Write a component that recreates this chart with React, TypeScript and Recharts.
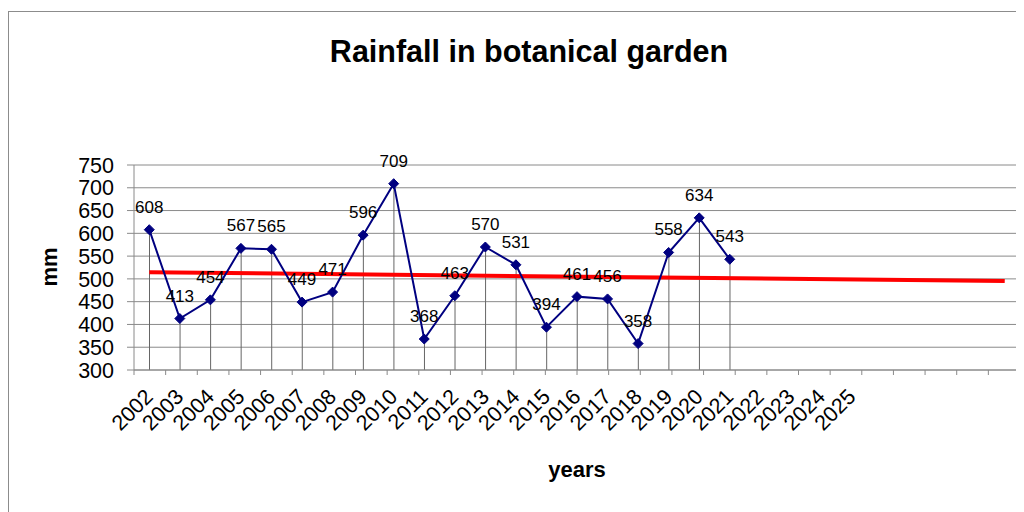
import {
  Bar,
  CartesianGrid,
  ComposedChart,
  LabelList,
  Line,
  ReferenceLine,
  XAxis,
  YAxis,
} from 'recharts';

const years = [
  '2002', '2003', '2004', '2005', '2006', '2007', '2008', '2009', '2010', '2011',
  '2012', '2013', '2014', '2015', '2016', '2017', '2018', '2019', '2020', '2021',
  '2022', '2023', '2024', '2025', '2026', '2027', '2028', '2029', '2030',
];
const tickLabels = [
  '2002', '2003', '2004', '2005', '2006', '2007', '2008', '2009', '2010', '2011',
  '2012', '2013', '2014', '2015', '2016', '2017', '2018', '2019', '2020', '2021',
  '2022', '2023', '2024', '2025', '', '', '', '', '',
];
const rainfall = [
  608, 413, 454, 567, 565, 449, 471, 596, 709, 368,
  463, 570, 531, 394, 461, 456, 358, 558, 634, 543,
];
// linear trend, read at its two ends
const trendEnds = [
  { x: '2002', y: 514.5 },
  { x: '2030', y: 495.5 },
];
const yTicks = [300, 350, 400, 450, 500, 550, 600, 650, 700, 750];

const data = years.map((year, i) => ({
  year,
  mm: i < rainfall.length ? rainfall[i] : null,
}));

const edgeTicks = years.map((_, i) => i).concat(years.length);

const FONT = 'Arial, "Liberation Sans", sans-serif';
const GRID = '#8a8a8a';
const NAVY = '#000080';

function Diamond(props: any) {
  const { cx, cy, value } = props;
  if (value == null || cx == null || cy == null) return <g key={props.index} />;
  const r = 5;
  return (
    <polygon
      key={props.index}
      points={`${cx},${cy - r} ${cx + r},${cy} ${cx},${cy + r} ${cx - r},${cy}`}
      fill={NAVY}
      stroke={NAVY}
    />
  );
}

function YearTick(props: any) {
  const { x, y, index } = props;
  const tx = x + 5;
  const ty = y + 19;
  return (
    <text
      x={tx}
      y={ty}
      transform={`rotate(-45, ${tx}, ${ty})`}
      textAnchor="end"
      fontSize={21.5}
      fontFamily={FONT}
      fill="#000"
    >
      {tickLabels[index]}
    </text>
  );
}

export default function App() {
  return (
    <div style={{ position: 'relative', width: 1016, height: 504, fontFamily: FONT }}>
      <div
        style={{
          position: 'absolute',
          left: 0,
          top: 3,
          width: 1015,
          height: 500,
          borderLeft: '1px solid #8c8c8c',
          borderTop: '1px solid #8c8c8c',
        }}
      />
      <ComposedChart
        width={1016}
        height={504}
        data={data}
        margin={{ top: 157, right: 4, left: 66, bottom: 62 }}
        style={{ position: 'absolute', left: 0, top: 0 }}
      >
        <CartesianGrid vertical={false} stroke={GRID} xAxisId="main" />
        <XAxis
          xAxisId="edge"
          type="number"
          domain={[0, years.length]}
          ticks={edgeTicks}
          interval={0}
          allowDataOverflow
          height={1}
          tickFormatter={() => ''}
          tickSize={5}
          tickLine={{ stroke: GRID }}
          axisLine={{ stroke: GRID }}
        />
        <XAxis
          xAxisId="main"
          dataKey="year"
          height={79}
          interval={0}
          axisLine={false}
          tickLine={false}
          tick={<YearTick />}
        />
        <YAxis
          domain={[300, 750]}
          ticks={yTicks}
          interval={0}
          width={60}
          tickSize={7}
          tickMargin={13}
          tick={{ fontSize: 21.5, fill: '#000', fontFamily: FONT }}
          axisLine={{ stroke: GRID }}
          tickLine={{ stroke: GRID }}
        />
        <YAxis
          yAxisId="r"
          orientation="right"
          domain={[300, 750]}
          width={0}
          tick={false}
          tickLine={false}
          axisLine={{ stroke: GRID }}
        />
        <Bar xAxisId="main" dataKey="mm" barSize={1} fill="#666" isAnimationActive={false} />
        <ReferenceLine
          xAxisId="main"
          segment={trendEnds}
          stroke="#ff0000"
          strokeWidth={4}
          ifOverflow="visible"
        />
        <Line
          xAxisId="main"
          dataKey="mm"
          stroke={NAVY}
          strokeWidth={2}
          dot={<Diamond />}
          activeDot={false}
          isAnimationActive={false}
        >
          <LabelList
            dataKey="mm"
            position="top"
            offset={17}
            fontSize={17}
            fill="#000"
            fontFamily={FONT}
          />
        </Line>
      </ComposedChart>
      <svg
        width={1016}
        height={504}
        style={{ position: 'absolute', left: 0, top: 0, pointerEvents: 'none' }}
      >
        <text x={521} y={54} textAnchor="middle" fontSize={30.5} fontWeight="bold" fontFamily={FONT}>
          Rainfall in botanical garden
        </text>
        <text x={569} y={469} textAnchor="middle" fontSize={22} fontWeight="bold" fontFamily={FONT}>
          years
        </text>
        <text
          x={49}
          y={259}
          transform="rotate(-90, 49, 259)"
          textAnchor="middle"
          fontSize={22}
          fontWeight="bold"
          fontFamily={FONT}
        >
          mm
        </text>
      </svg>
    </div>
  );
}
